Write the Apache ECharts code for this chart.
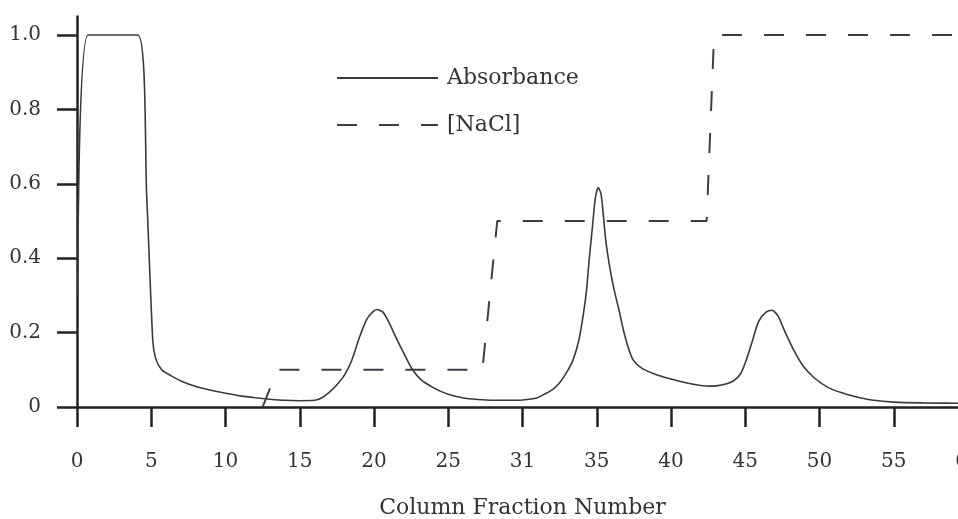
<!DOCTYPE html>
<html lang="en">
  <head>
    <meta charset="UTF-8" />
    <title>Column Fraction Number</title>
    <style>
      html, body {
        margin: 0;
        padding: 0;
        background: #fff;
      }
      #main {
        width: 958px;
        height: 519px;
      }
    </style>
    <script src="https://cdn.jsdelivr.net/npm/echarts@6/dist/echarts.min.js"></script>
  </head>
  <body>
    <div id="main"></div>
    <script>
      // values: [fraction, value]
      const absorbance = [
        [0.05, 0.30], [0.75, 1.0], [4.1, 1.0], [4.7, 0.56], [5.1, 0.18], [5.3, 0.13],
        [5.7, 0.10], [6.3, 0.085], [7, 0.07], [8, 0.055], [9, 0.045], [10, 0.037],
        [11, 0.03], [12, 0.025], [13, 0.021], [14, 0.018], [15, 0.017], [16, 0.018],
        [16.5, 0.025], [17, 0.04], [17.5, 0.06], [18, 0.085], [18.5, 0.125], [19, 0.185],
        [19.5, 0.235], [19.9, 0.255], [20.2, 0.262], [20.6, 0.255], [21, 0.228],
        [21.5, 0.185], [22, 0.145], [22.6, 0.1], [23.2, 0.072], [23.9, 0.054],
        [24.5, 0.042], [25, 0.034], [26, 0.024], [27, 0.02], [28, 0.018], [29, 0.018],
        [30, 0.019], [31, 0.025], [31.5, 0.035], [32, 0.046], [32.5, 0.065], [33, 0.095],
        [33.4, 0.126], [33.8, 0.18], [34.1, 0.25], [34.3, 0.31], [34.5, 0.4], [34.7, 0.48],
        [34.9, 0.56], [35.1, 0.59], [35.3, 0.57], [35.6, 0.45], [35.9, 0.37], [36.2, 0.31],
        [36.5, 0.26], [36.9, 0.19], [37.4, 0.13], [38, 0.105], [38.8, 0.09], [40, 0.075],
        [41, 0.065], [42, 0.058], [42.6, 0.056], [43.5, 0.06], [44.2, 0.07], [44.7, 0.09],
        [45.1, 0.13], [45.5, 0.18], [45.9, 0.23], [46.4, 0.255], [46.8, 0.26], [47.2, 0.245],
        [47.7, 0.2], [48.3, 0.15], [48.9, 0.11], [49.6, 0.08], [50.5, 0.054], [51.5, 0.038],
        [52.5, 0.027], [53.5, 0.019], [55, 0.013], [57, 0.011], [60, 0.01]
      ]

      const nacl = [
        [12.5, 0], [13.5, 0.1], [27.3, 0.1], [28.3, 0.5], [42.4, 0.5], [42.9, 1.0], [60, 1.0]
      ]

      const yTicks = [0, 0.2, 0.4, 0.6, 0.8, 1.0]
      const xTicks = [0, 5, 10, 15, 20, 25, 30, 35, 40, 45, 50, 55, 60]
      // the original figure prints 31 under the 30 tick
      const xTickText = ['0', '5', '10', '15', '20', '25', '31', '35', '40', '45', '50', '55', '60']

      const ink = '#333'
      const font = '"DejaVu Serif", "Liberation Serif", serif'

      const chart = echarts.init(document.getElementById('main'))

      const option = {
        animation: false,
        textStyle: { fontFamily: font },
        grid: {
          left: 77,
          top: 16.4,
          width: 891,
          bottom: 112,
          containLabel: false,
          outerBoundsMode: 'none'
        },
        legend: {
          orient: 'vertical',
          left: 331,
          top: 60,
          itemWidth: 101,
          itemHeight: 14,
          itemGap: 21,
          itemStyle: { opacity: 0 },
          textStyle: {
            fontFamily: font,
            fontSize: 22,
            color: ink,
            lineHeight: 26,
            padding: [0, 0, 0, 4]
          },
          data: ['Absorbance', '[NaCl]']
        },
        xAxis: {
          type: 'value',
          min: 0,
          max: 60,
          interval: 5,
          name: 'Column Fraction Number',
          nameLocation: 'middle',
          nameGap: 90,
          nameTextStyle: { fontFamily: font, fontSize: 22, color: ink },
          axisLine: { onZero: false, lineStyle: { color: '#222', width: 2.5 } },
          axisTick: {
            customValues: xTicks,
            length: 20,
            lineStyle: { color: '#222', width: 2.5 }
          },
          axisLabel: {
            customValues: xTicks,
            margin: 45,
            fontFamily: font,
            fontSize: 20,
            color: ink,
            formatter: v => xTickText[xTicks.indexOf(v)]
          },
          splitLine: { show: false }
        },
        yAxis: {
          type: 'value',
          min: 0,
          max: 1.05,
          axisLine: { show: true, lineStyle: { color: '#222', width: 2.5 } },
          axisTick: {
            show: true,
            customValues: yTicks,
            length: 20,
            lineStyle: { color: '#222', width: 2.5 }
          },
          axisLabel: {
            customValues: yTicks,
            margin: 36,
            fontFamily: font,
            fontSize: 20,
            color: ink,
            formatter: v => (v === 0 ? '0' : v.toFixed(1))
          },
          splitLine: { show: false }
        },
        series: [
          {
            name: 'Absorbance',
            type: 'line',
            data: absorbance,
            symbol: 'none',
            smooth: 0.25,
            lineStyle: { color: '#3a3a3a', width: 1.6 },
            itemStyle: { color: '#3a3a3a' }
          },
          {
            name: '[NaCl]',
            type: 'line',
            data: nacl,
            symbol: 'none',
            lineStyle: { color: '#3d3d4a', width: 2, type: [20, 22] },
            itemStyle: { color: '#3d3d4a' }
          }
        ]
      }

      chart.setOption(option)
    </script>
  </body>
</html>
